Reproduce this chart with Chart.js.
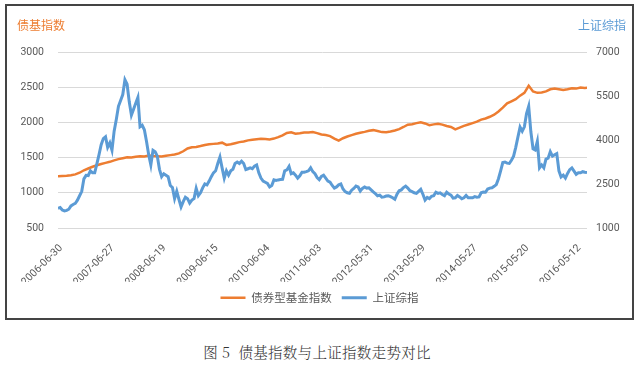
<!doctype HTML>
<html lang="zh">
<head>
    <meta charset=utf-8>
    <title>债基指数与上证指数走势对比</title>
    <style type="text/css">
        * {
            padding: 0;
            margin: 0;
        }

        body {
            width: 640px;
            height: 368px;
            background: #fff;
            position: relative;
            overflow: hidden;
        }

        #frame {
            position: absolute;
            left: 5px;
            top: 4px;
            width: 625px;
            height: 312px;
            border: 2px solid #444;
        }

        #frame canvas {
            position: absolute;
            left: 0;
            top: 0;
        }

        .axisName {
            position: absolute;
            top: 17px;
            font-family: 'Noto Sans CJK SC', sans-serif;
            font-size: 12px;
            line-height: 16px;
        }

        #leftName {
            left: 17px;
            color: #ed7d31;
        }

        #rightName {
            left: 578px;
            color: #5b9bd5;
        }

        #caption {
            position: absolute;
            left: 0;
            top: 343px;
            width: 634px;
            text-align: center;
            font-family: 'Noto Serif CJK SC', 'Noto Sans CJK SC', serif;
            font-size: 14.5px;
            font-weight: 300;
            letter-spacing: 0.3px;
            line-height: 18px;
            color: #333;
        }
    </style>
    <script src="https://cdn.jsdelivr.net/npm/chart.js"></script>
</head>
<body>
    <div id="frame">
        <canvas id="fundChart" width="625" height="312"></canvas>
    </div>
    <div class="axisName" id="leftName">债基指数</div>
    <div class="axisName" id="rightName">上证综指</div>
    <div id="caption">图 5&nbsp; 债基指数与上证指数走势对比</div>

    <script type="text/javascript">
        // trading days between two date labels on the x axis
        const LABEL_STEP = 240;
        const tickLabels = [
            '2006-06-30', '2007-06-27', '2008-06-19', '2009-06-15', '2010-06-04', '2011-06-03',
            '2012-05-31', '2013-05-29', '2014-05-27', '2015-05-20', '2016-05-12'
        ];
        const lastDay = 2450;

        // 上证综指, one value every 10 trading days
        const stockStep = 10;
        const stockValues = [
            1672, 1700, 1612, 1580, 1601, 1640, 1753, 1800, 1837, 1950,
            2099, 2250, 2675, 2794, 2786, 2950, 2881, 2880, 3183, 3500,
            3841, 4050, 4109, 3750, 3900, 3650, 4300, 4700, 5150, 5350,
            5550, 6050, 5900, 5300, 4850, 5050, 5250, 5450, 4450, 4500,
            4350, 3950, 3500, 3150, 3650, 3600, 3450, 3000, 2750, 2850,
            2800, 2750, 2450, 2380, 2000, 2250, 1980, 1720, 1900, 2050,
            2000, 1850, 1950, 2000, 2350, 2100, 2200, 2370, 2500, 2470,
            2600, 2750, 2880, 2950, 3200, 3420, 3050, 2700, 2950, 2800,
            2950, 3000, 3200, 3250, 3200, 3280, 3200, 2990, 3020, 3050,
            3020, 3110, 3150, 2880, 2700, 2600, 2560, 2520, 2400, 2450,
            2640, 2620, 2640, 2650, 2660, 2950, 2980, 3100, 2850, 2880,
            2800, 2700, 2780, 2900, 2900, 2920, 2950, 3050, 2920, 2850,
            2720, 2650, 2760, 2800, 2700, 2600, 2560, 2450, 2360, 2400,
            2470, 2500, 2330, 2240, 2200, 2180, 2290, 2350, 2430, 2400,
            2260, 2350, 2400, 2360, 2370, 2300, 2230, 2170, 2100, 2120,
            2050, 2060, 2090, 2100, 2070, 2030, 1980, 2150, 2270, 2300,
            2380, 2430, 2360, 2270, 2240, 2200, 2180, 2250, 2320, 2150,
            1950, 2040, 2000, 2080, 2100, 2220, 2180, 2200, 2140, 2100,
            2220, 2160, 2120, 2020, 2030, 2110, 2060, 2000, 2030, 2110,
            2030, 2030, 2030, 2070, 2050, 2060, 2200, 2230, 2220, 2330,
            2360, 2370, 2420, 2480, 2680, 2950, 3230, 3250, 3210, 3200,
            3310, 3450, 3750, 4100, 4440, 4300, 4450, 4900, 5150, 4280,
            3700, 3660, 3950, 3050, 3150, 3050, 3350, 3380, 3600, 3450,
            3500, 3540, 2950, 2740, 2800, 2700, 2860, 2990, 3050, 2940,
            2830, 2880, 2880, 2920, 2900, 2890
        ];

        // 债券型基金指数, one value every 20 trading days
        const bondStep = 20;
        const bondValues = [
            1235, 1238, 1242, 1250, 1262, 1285, 1320, 1345, 1370, 1392,
            1410, 1425, 1440, 1460, 1478, 1492, 1505, 1500, 1512, 1518,
            1515, 1528, 1522, 1520, 1515, 1525, 1535, 1545, 1560, 1590,
            1630, 1648, 1652, 1665, 1680, 1690, 1695, 1700, 1712, 1680,
            1690, 1705, 1720, 1730, 1745, 1755, 1762, 1768, 1765, 1758,
            1770, 1790, 1815, 1850, 1860, 1840, 1845, 1855, 1858, 1862,
            1848, 1828, 1820, 1805, 1770, 1740, 1775, 1800, 1820, 1838,
            1852, 1865, 1880, 1890, 1878, 1862, 1860, 1870, 1885, 1905,
            1935, 1968, 1975, 1990, 2003, 1985, 1960, 1972, 1982, 1968,
            1948, 1935, 1902, 1925, 1950, 1970, 1990, 2010, 2040, 2055,
            2080, 2110, 2155, 2210, 2270, 2300, 2330, 2380, 2420, 2520,
            2440, 2420, 2425, 2440, 2470, 2480, 2470, 2460, 2470, 2485,
            2480, 2495, 2490, 2492
        ];

        const tickFont = { family: "Roboto, 'Noto Sans CJK SC', sans-serif", size: 10.5 };
        const textGrey = '#595959';
        const plainNumber = (value) => String(value);

        const data = {
            datasets: [{
                label: '债券型基金指数',
                data: bondValues.map((v, i) => ({ x: i * bondStep, y: v })),
                borderColor: '#ed7d31',
                backgroundColor: '#ed7d31',
                borderWidth: 2.5,
                yAxisID: 'y',
                order: 1
            }, {
                label: '上证综指',
                data: stockValues.map((v, i) => ({ x: i * stockStep, y: v })),
                borderColor: '#5b9bd5',
                backgroundColor: '#5b9bd5',
                borderWidth: 3,
                yAxisID: 'y1',
                order: 0
            }]
        };

        const config = {
            type: 'line',
            data,
            options: {
                responsive: false,
                animation: false,
                devicePixelRatio: 1,
                elements: {
                    point: { radius: 0 },
                    line: { tension: 0 }
                },
                layout: {
                    padding: { top: 46, bottom: 4.5, left: 0, right: 0 }
                },
                plugins: {
                    tooltip: { enabled: false },
                    legend: {
                        position: 'bottom',
                        labels: {
                            usePointStyle: true,
                            pointStyle: 'line',
                            pointStyleWidth: 25,
                            padding: 10,
                            color: textGrey,
                            font: { family: "'Noto Sans CJK SC', sans-serif", size: 11.5 },
                            sort: (a, b) => a.datasetIndex - b.datasetIndex
                        }
                    }
                },
                scales: {
                    x: {
                        type: 'linear',
                        min: 0,
                        max: lastDay,
                        grid: { display: false },
                        border: { display: false },
                        afterBuildTicks: (scale) => {
                            scale.ticks = tickLabels.map((_, i) => ({ value: i * LABEL_STEP }));
                        },
                        afterFit: (scale) => { scale.height = 54; },
                        ticks: {
                            autoSkip: false,
                            minRotation: 45,
                            maxRotation: 45,
                            padding: 6,
                            labelOffset: 3,
                            color: textGrey,
                            font: tickFont,
                            callback: (value) => tickLabels[Math.round(value / LABEL_STEP)]
                        }
                    },
                    y: {
                        position: 'left',
                        min: 500,
                        max: 3000,
                        grid: { color: '#d9d9d9', drawTicks: false },
                        border: { display: false },
                        afterFit: (scale) => { scale.width = 51; },
                        ticks: { stepSize: 500, padding: 14, color: textGrey, font: tickFont, callback: plainNumber }
                    },
                    y1: {
                        position: 'right',
                        min: 1000,
                        max: 7000,
                        grid: { display: false, drawTicks: false },
                        border: { display: false },
                        afterFit: (scale) => { scale.width = 45; },
                        ticks: { stepSize: 1500, padding: 9, color: textGrey, font: tickFont, callback: plainNumber }
                    }
                }
            }
        };

        const chart = new Chart(document.getElementById('fundChart'), config);
    </script>
</body>
</html>
